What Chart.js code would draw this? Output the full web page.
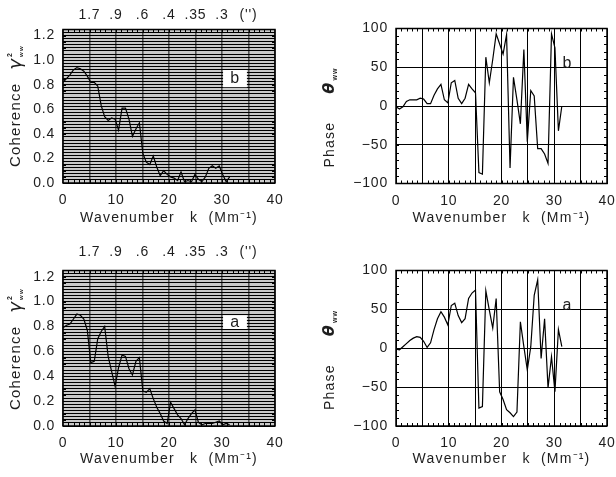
<!DOCTYPE html>
<html>
<head>
<meta charset="utf-8">
<script src="https://cdn.jsdelivr.net/npm/chart.js@4.4.1/dist/chart.umd.min.js"></script>
<style>
  html, body { margin: 0; padding: 0; background: #fff; }
  #wrap { position: relative; width: 616px; height: 477px; overflow: hidden; }
  canvas { position: absolute; }
</style>
</head>
<body>
<div id="wrap">
  <canvas id="cohB" style="left:0;top:0" width="300" height="237"></canvas>
  <canvas id="phaB" style="left:300px;top:0" width="316" height="237"></canvas>
  <canvas id="cohA" style="left:0;top:237px" width="300" height="240"></canvas>
  <canvas id="phaA" style="left:300px;top:237px" width="316" height="240"></canvas>
</div>
<script>
// Wavenumber grid k (Mm^-1)
const wavenumber = [0.00, 0.66, 1.31, 1.97, 2.62, 3.28, 3.93, 4.59, 5.24, 5.90,
  6.55, 7.21, 7.86, 8.52, 9.17, 9.83, 10.48, 11.14, 11.79, 12.45,
  13.10, 13.76, 14.41, 15.07, 15.72, 16.38, 17.03, 17.69, 18.34, 18.99,
  19.65, 20.30, 20.96, 21.62, 22.27, 22.93, 23.58, 24.24, 24.89, 25.55,
  26.20, 26.86, 27.51, 28.17, 28.82, 29.48, 30.13, 30.79, 31.44];

// Coherence gamma^2_ww, case b
const coherenceB = [0.82, 0.85, 0.88, 0.92, 0.94, 0.93, 0.91, 0.87, 0.82, 0.82,
  0.79, 0.63, 0.54, 0.51, 0.53, 0.52, 0.43, 0.61, 0.61, 0.52,
  0.38, 0.44, 0.49, 0.24, 0.17, 0.15, 0.22, 0.13, 0.06, 0.10,
  0.07, 0.05, 0.04, 0.02, 0.09, 0.01, 0.02, 0.01, 0.07, 0.03,
  0.01, 0.05, 0.12, 0.14, 0.12, 0.14, 0.07, 0.01, 0.05];

// Phase theta_ww (deg), case b
const phaseB = [-1, -4, -1, 6, 8, 8, 8, 10, 9, 3,
  3, 14, 22, 28, 8, 4, 30, 33, 10, 3,
  10, 28, 22, 17, -86, -88, 63, 30, 60, 93,
  80, 67, 92, -80, 37, 8, -23, 73, -46, 20,
  13, -55, -55, -62, -74, 93, 75, -32, 0];

// Coherence gamma^2_ww, case a
const coherenceA = [0.79, 0.81, 0.82, 0.86, 0.90, 0.89, 0.86, 0.77, 0.51, 0.52,
  0.70, 0.76, 0.80, 0.56, 0.44, 0.32, 0.47, 0.57, 0.56, 0.46,
  0.41, 0.52, 0.55, 0.28, 0.27, 0.30, 0.22, 0.15, 0.10, 0.04,
  0.02, 0.19, 0.14, 0.09, 0.06, 0.01, 0.06, 0.10, 0.13, 0.03,
  0.01, 0.02, 0.02, 0.02, 0.03, 0.04, 0.01, 0.02, 0.01];

// Phase theta_ww (deg), case a
const phaseA = [-1, -2, 2, 6, 10, 13, 15, 14, 9, 1,
  7, 24, 38, 47, 40, 30, 55, 58, 42, 33,
  38, 64, 71, 75, -77, -75, 74, 49, 26, 64,
  -56, -66, -79, -83, -88, -82, 34, 2, -28, 2,
  68, 88, -13, 38, -51, -11, -56, 24, 2];

// Angular scale (arcsec) shown on the top axis at k = 5, 10, ..., 35
const arcsecLabels = ['1.7', '.9', '.6', '.4', '.35', '.3', "('')"];

const FONT = '"Liberation Sans", Arial, Helvetica, sans-serif';
const TEXT = '#1e1e1e';
const TICK_SPACING = '0.8px';
const TITLE_SPACING = '1.2px';
const MINOR_TICK = 3;

Chart.defaults.font.family = FONT;
Chart.defaults.font.size = 14;
Chart.defaults.color = TEXT;

function drawRotated(ctx, x, yBottom, parts) {
  ctx.save();
  ctx.translate(x, yBottom);
  ctx.rotate(-Math.PI / 2);
  ctx.textAlign = 'left';
  ctx.textBaseline = 'middle';
  ctx.fillStyle = TEXT;
  let cx = 0;
  for (const p of parts) {
    ctx.font = p.font;
    ctx.fillText(p.text, cx, p.dy || 0);
    if (!p.stack) cx += ctx.measureText(p.text).width + (p.gap || 0);
  }
  ctx.restore();
}

const panelDecor = {
  id: 'panelDecor',
  beforeLayout(chart) { chart.ctx.letterSpacing = TICK_SPACING; },
  beforeDraw(chart, _args, o) {
    const ctx = chart.ctx;
    ctx.letterSpacing = TICK_SPACING;
    if (o.fill) {
      const a = chart.chartArea;
      ctx.save();
      ctx.fillStyle = o.fill;
      ctx.fillRect(a.left, a.top, a.right - a.left, a.bottom - a.top);
      ctx.restore();
    }
  },
  afterDatasetsDraw(chart, _args, o) {
    const ctx = chart.ctx, a = chart.chartArea;
    const xs = chart.scales.x, ys = chart.scales.y;
    ctx.save();
    // panel tag
    if (o.tag) {
      const t = o.tag;
      if (t.box) {
        const x0 = xs.getPixelForValue(t.box[0]), x1 = xs.getPixelForValue(t.box[1]);
        const y0 = ys.getPixelForValue(t.box[3]), y1 = ys.getPixelForValue(t.box[2]);
        ctx.fillStyle = '#fff';
        ctx.fillRect(x0, y0, x1 - x0, y1 - y0);
      }
      ctx.fillStyle = TEXT;
      ctx.font = '16px ' + FONT;
      ctx.letterSpacing = '0px';
      ctx.textAlign = 'center';
      ctx.textBaseline = 'middle';
      ctx.fillText(t.text, xs.getPixelForValue(t.k), ys.getPixelForValue(t.v));
    }
    // minor ticks on all four sides
    ctx.strokeStyle = '#000';
    ctx.lineWidth = 1;
    ctx.beginPath();
    const nx = Math.round((xs.max - xs.min) / o.minorX);
    for (let i = 1; i < nx; i++) {
      const px = Math.round(xs.getPixelForValue(xs.min + i * o.minorX)) + 0.5;
      ctx.moveTo(px, a.top); ctx.lineTo(px, a.top + MINOR_TICK);
      ctx.moveTo(px, a.bottom); ctx.lineTo(px, a.bottom - MINOR_TICK);
    }
    const ny = Math.round((ys.max - ys.min) / o.minorY);
    for (let i = 1; i < ny; i++) {
      const py = Math.round(ys.getPixelForValue(ys.min + i * o.minorY)) + 0.5;
      ctx.moveTo(a.left, py); ctx.lineTo(a.left + MINOR_TICK, py);
      ctx.moveTo(a.right, py); ctx.lineTo(a.right - MINOR_TICK, py);
    }
    ctx.stroke();
    // frame
    ctx.lineWidth = 1.5;
    ctx.strokeRect(a.left, a.top, a.right - a.left, a.bottom - a.top);
    ctx.restore();
  },
  afterDraw(chart, _args, o) {
    const ctx = chart.ctx, a = chart.chartArea;
    ctx.save();
    ctx.letterSpacing = TITLE_SPACING;
    ctx.fillStyle = TEXT;
    ctx.font = '14px ' + FONT;
    ctx.textAlign = 'center';
    ctx.textBaseline = 'middle';
    ctx.fillText('Wavenumber   k  (Mm\u207B\u00B9)', (a.left + a.right) / 2, a.bottom + o.xTitleDy);
    drawRotated(ctx, a.left - o.yTitleDx, a.bottom - 16, o.yTitle);
    ctx.restore();
  }
};

const isMajorCoh = v => Math.abs(v * 5 - Math.round(v * 5)) < 1e-6 && v < 1.21;

function buildPanel(id, kind, values, tag, box) {
  const coh = kind === 'coherence';
  const scales = {
    x: {
      type: 'linear', position: 'bottom', min: 0, max: 40,
      afterFit: s => { s.height = box.bottom; },
      grid: { drawTicks: true, tickLength: 9, tickColor: 'rgba(0,0,0,0)',
              color: coh ? '#555' : '#000', lineWidth: coh ? 1.6 : 1 },
      border: { display: false },
      ticks: { stepSize: 5, padding: 0, maxRotation: 0, autoSkip: false,
               callback: v => (v % 10 === 0 ? String(v) : '') }
    },
    y: coh ? {
      type: 'linear', min: 0, max: 1.25,
      afterFit: s => { s.width = box.left; },
      grid: { drawTicks: false, color: '#000', lineWidth: 1 },
      border: { display: false },
      ticks: { stepSize: 0.025, autoSkip: false, maxTicksLimit: 200, padding: 8,
               callback: v => (isMajorCoh(v) ? v.toFixed(1) : '') }
    } : {
      type: 'linear', min: -100, max: 100,
      afterFit: s => { s.width = box.left; },
      grid: { drawTicks: false, color: '#000', lineWidth: 1 },
      border: { display: false },
      ticks: { stepSize: 50, padding: 8,
               callback: v => (v < 0 ? '\u2212' + Math.abs(v) : String(v)) }
    }
  };
  if (coh) {
    scales.x2 = {
      type: 'linear', position: 'top', min: 0, max: 40,
      afterFit: s => { s.height = box.top; },
      grid: { display: false, drawTicks: false },
      border: { display: false },
      ticks: { stepSize: 5, padding: box.topPad, maxRotation: 0, autoSkip: false,
               callback: v => arcsecLabels[Math.round(v / 5) - 1] || '' }
    };
  }
  const yTitle = coh
    ? [{ text: 'Coherence', font: '15px ' + FONT, gap: 13 },
       { text: '\u03B3', font: 'italic 18px "DejaVu Sans", sans-serif', gap: 1 },
       { text: '2', font: 'bold 7px ' + FONT, dy: -6, stack: true },
       { text: 'ww', font: 'bold 6px ' + FONT, dy: 5 }]
    : [{ text: 'Phase', font: '14px ' + FONT, gap: 28 },
       { text: '\u03B8', font: 'bold italic 16px "DejaVu Sans", sans-serif', gap: 1 },
       { text: 'ww', font: 'bold 7px ' + FONT, dy: 5 }];

  return new Chart(document.getElementById(id), {
    type: 'line',
    data: {
      datasets: [{
        data: wavenumber.map((k, i) => ({ x: k, y: values[i] })),
        borderColor: '#000', borderWidth: 1.2, pointRadius: 0, tension: 0, fill: false
      }]
    },
    options: {
      responsive: false, animation: false, devicePixelRatio: 1,
      layout: { padding: { left: 0, right: box.right, top: coh ? 0 : box.top, bottom: 0 } },
      scales,
      plugins: {
        legend: { display: false },
        tooltip: { enabled: false },
        panelDecor: {
          fill: coh ? '#cacaca' : null,
          tag,
          minorX: 1,
          minorY: coh ? 0.05 : 10,
          xTitleDy: box.xTitleDy,
          yTitleDx: box.yTitleDx,
          yTitle
        }
      }
    },
    plugins: [panelDecor]
  });
}

buildPanel('cohB', 'coherence', coherenceB,
  { text: 'b', k: 32.4, v: 0.85, box: [30.2, 34.7, 0.78, 0.92] },
  { left: 63, right: 25, top: 29.5, bottom: 54, topPad: 6, xTitleDy: 35, yTitleDx: 47 });
buildPanel('phaB', 'phase', phaseB,
  { text: 'b', k: 32.4, v: 55 },
  { left: 96, right: 9, top: 28.5, bottom: 53.5, xTitleDy: 35, yTitleDx: 66 });
buildPanel('cohA', 'coherence', coherenceA,
  { text: 'a', k: 32.4, v: 0.83, box: [30.2, 34.7, 0.78, 0.89] },
  { left: 63, right: 25, top: 33.5, bottom: 51, topPad: 10, xTitleDy: 33, yTitleDx: 47 });
buildPanel('phaA', 'phase', phaseA,
  { text: 'a', k: 32.4, v: 55 },
  { left: 96, right: 9, top: 33.5, bottom: 51, xTitleDy: 33, yTitleDx: 66 });
</script>
</body>
</html>
